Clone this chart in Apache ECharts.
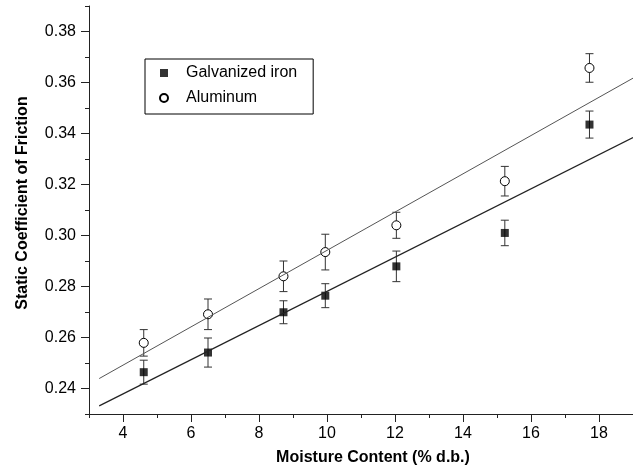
<!DOCTYPE html>
<html>
<head>
<meta charset="utf-8">
<script src="https://cdn.jsdelivr.net/npm/echarts@6/dist/echarts.min.js"></script>
<style>html,body{margin:0;padding:0;background:#fff}#c{width:633px;height:472px}</style>
</head>
<body>
<div id="c"></div>
<script>
// ---- data ----
const moisture = [4.61, 6.50, 8.72, 9.95, 12.04, 15.23, 17.72];
const galvanized = [0.2464, 0.2541, 0.2699, 0.2764, 0.2879, 0.3010, 0.3435];
const galvErr = [0.0047, 0.0057, 0.0045, 0.0047, 0.0060, 0.0050, 0.0053];
const aluminum = [0.2579, 0.2691, 0.2840, 0.2935, 0.3040, 0.3213, 0.3657];
const alumErr = [0.0052, 0.0060, 0.0060, 0.0070, 0.0051, 0.0058, 0.0056];
const fitX = [3.3, 19];
const galvFit = [0.2332, 0.3384];
const alumFit = [0.2439, 0.3617];
const xMajor = [4, 6, 8, 10, 12, 14, 16, 18];
const xMinor = [3, 5, 7, 9, 11, 13, 15, 17, 19];
const yMajor = [0.24, 0.26, 0.28, 0.30, 0.32, 0.34, 0.36, 0.38];
const yMinor = [0.23, 0.25, 0.27, 0.29, 0.31, 0.33, 0.35, 0.37, 0.39];

const FONT = 'Liberation Sans';
const AX = '#222';
const SQUARE = 'path://M0,0L10,0L10,10L0,10Z';
const chart = echarts.init(document.getElementById('c'));

function errData(v, e) { return moisture.map((x, i) => [x, v[i] - e[i], v[i] + e[i]]); }
function errRender(params, api) {
  const x = api.value(0);
  const a = api.coord([x, api.value(1)]);
  const b = api.coord([x, api.value(2)]);
  const hw = 4;
  const st = { stroke: '#333', lineWidth: 1 };
  return { type: 'group', children: [
    { type: 'line', shape: { x1: b[0], y1: b[1], x2: a[0], y2: a[1] }, style: st },
    { type: 'line', shape: { x1: b[0] - hw, y1: b[1], x2: b[0] + hw, y2: b[1] }, style: st },
    { type: 'line', shape: { x1: a[0] - hw, y1: a[1], x2: a[0] + hw, y2: a[1] }, style: st }
  ]};
}

const baseX = { type: 'value', min: 3, max: 19, position: 'bottom', offset: 0, splitLine: { show: false } };
const baseY = { type: 'value', min: 0.23, max: 0.39, position: 'left', offset: 0, splitLine: { show: false } };

chart.setOption({
  animation: false,
  grid: { left: 89, right: 0, top: 6, bottom: 58 },
  legend: {
    data: [{ name: 'Galvanized iron', icon: SQUARE }, { name: 'Aluminum', icon: 'circle' }],
    orient: 'vertical', left: 145, top: 59,
    itemWidth: 8, itemHeight: 8, itemGap: 9,
    padding: [6, 16, 8, 14],
    borderColor: '#000', borderWidth: 1,
    textStyle: { fontFamily: FONT, fontSize: 16, color: '#000', lineHeight: 16, padding: [0, 0, 0, 13] }
  },
  xAxis: [
    Object.assign({}, baseX, {
      name: 'Moisture Content (% d.b.)', nameLocation: 'middle', nameGap: 36,
      nameTextStyle: { fontFamily: FONT, fontSize: 16, fontWeight: 'bold', color: '#000', padding: [0, 0, 0, 24] },
      axisLine: { lineStyle: { color: AX, width: 1 } },
      axisTick: { customValues: xMajor, length: 8, lineStyle: { color: AX } },
      axisLabel: { customValues: xMajor, margin: 12, fontFamily: FONT, fontSize: 16, color: '#000' }
    }),
    Object.assign({}, baseX, {
      axisLine: { show: false },
      axisTick: { customValues: xMinor, length: 4, lineStyle: { color: AX } },
      axisLabel: { show: false }
    })
  ],
  yAxis: [
    Object.assign({}, baseY, {
      name: 'Static Coefficient of Friction', nameLocation: 'middle', nameGap: 58,
      nameTextStyle: { fontFamily: FONT, fontSize: 16, fontWeight: 'bold', color: '#000', padding: [0, 0, 0, 14] },
      axisLine: { show: true, lineStyle: { color: AX, width: 1 } },
      axisTick: { show: true, customValues: yMajor, length: 8, lineStyle: { color: AX } },
      axisLabel: { customValues: yMajor, margin: 13, fontFamily: FONT, fontSize: 16, color: '#000',
        formatter: v => v.toFixed(2) }
    }),
    Object.assign({}, baseY, {
      axisLine: { show: false },
      axisTick: { show: true, customValues: yMinor, length: 4, lineStyle: { color: AX } },
      axisLabel: { show: false }
    })
  ],
  series: [
    { type: 'custom', name: 'gErr', renderItem: errRender, data: errData(galvanized, galvErr),
      encode: { x: 0, y: [1, 2] }, z: 1, silent: true },
    { type: 'custom', name: 'aErr', renderItem: errRender, data: errData(aluminum, alumErr),
      encode: { x: 0, y: [1, 2] }, z: 1, silent: true },
    { type: 'scatter', name: 'Galvanized iron', symbol: 'rect', symbolSize: 8,
      itemStyle: { color: '#000' }, data: moisture.map((x, i) => [x, galvanized[i]]), z: 2 },
    { type: 'scatter', name: 'Aluminum', symbol: 'circle', symbolSize: 9,
      itemStyle: { color: '#fff', borderColor: '#000', borderWidth: 1, opacity: 1 },
      data: moisture.map((x, i) => [x, aluminum[i]]), z: 2 },
    { type: 'line', name: 'gFit', data: fitX.map((x, i) => [x, galvFit[i]]), showSymbol: false, symbol: 'none',
      lineStyle: { color: '#222', width: 1.2 }, z: 3, silent: true },
    { type: 'line', name: 'aFit', data: fitX.map((x, i) => [x, alumFit[i]]), showSymbol: false, symbol: 'none',
      lineStyle: { color: '#555', width: 1 }, z: 3, silent: true }
  ]
});
</script>
</body>
</html>
